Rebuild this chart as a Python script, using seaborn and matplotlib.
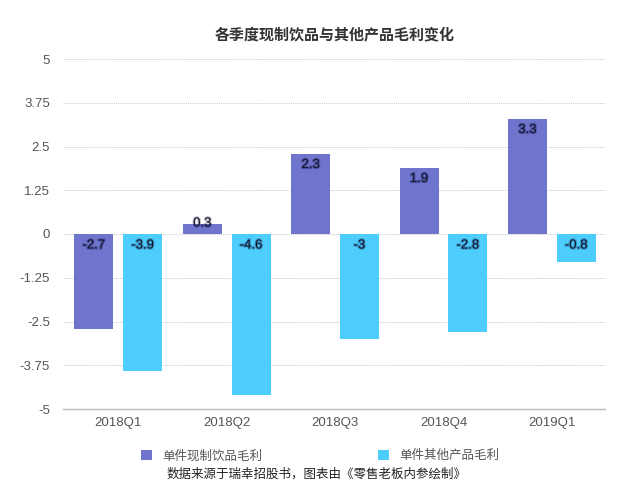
import pandas as pd
import matplotlib.pyplot as plt
import matplotlib.patheffects as pe
import seaborn as sns

# данные
quarters = ['2018Q1', '2018Q2', '2018Q3', '2018Q4', '2019Q1']
drink_margin = [-2.7, 0.3, 2.3, 1.9, 3.3]
other_margin = [-3.9, -4.6, -3.0, -2.8, -0.8]
series_names = ['单件现制饮品毛利', '单件其他产品毛利']
colors = ['#6f74cc', '#4dcdfc']
yticks = [-5, -3.75, -2.5, -1.25, 0, 1.25, 2.5, 3.75, 5]

df = pd.DataFrame({
    'quarter': quarters * 2,
    'value': drink_margin + other_margin,
    'series': [series_names[0]] * 5 + [series_names[1]] * 5,
})

sns.set_style('white')
plt.rcParams['font.family'] = ['Liberation Sans', 'Noto Sans CJK SC', 'DejaVu Sans']

fig = plt.figure(figsize=(6.41, 5.0), dpi=100)
ax = fig.add_axes([63 / 641, 1 - 409 / 500, 542 / 641, 350 / 500])

sns.barplot(data=df, x='quarter', y='value', hue='series', order=quarters,
            hue_order=series_names, palette=colors, width=0.9, gap=0.2,
            saturation=1, linewidth=0, ax=ax, errorbar=None)

ax.set_ylim(-5, 5)
ax.set_xlim(-0.51, 4.49)
ax.set_yticks(yticks)
ax.set_yticklabels([f'{t:g}' for t in yticks])
ax.set_xlabel('')
ax.set_ylabel('')
ax.tick_params(axis='both', length=0, labelsize=9.5, colors='#555555')
ax.tick_params(axis='y', pad=9.5)
ax.tick_params(axis='x', pad=6)

for t in yticks[1:]:
    ax.axhline(t, color='#c8c8c8', linestyle=(0, (1, 1)), linewidth=0.7, zorder=0)
for s in ['top', 'right', 'left']:
    ax.spines[s].set_visible(False)
ax.spines['bottom'].set_color('#bbbbbb')
ax.spines['bottom'].set_linewidth(1)

# подписи значений
glow = [pe.withStroke(linewidth=1.6, foreground='#000033', alpha=0.25)]
for container in ax.containers:
    for bar in container:
        v = bar.get_height()
        x = bar.get_x() + bar.get_width() / 2
        if v >= 0:
            y = v - 0.33 if v > 0.6 else v
        else:
            y = -0.33
        ax.text(x, y, f'{v:g}', ha='center', va='center', fontsize=9.5,
                color='#15152e', path_effects=glow, zorder=5)

handles, labels = ax.get_legend_handles_labels()
ax.get_legend().remove()
fig.legend(handles, labels, loc='center', bbox_to_anchor=(320 / 641, 1 - 456 / 500),
           ncol=2, frameon=False, fontsize=9, columnspacing=9.3,
           handletextpad=0.8, handlelength=0.9, handleheight=0.9,
           labelcolor='#555555')

fig.text(317 / 641, 1 - 474 / 500, '数据来源于瑞幸招股书，图表由《零售老板内参绘制》',
         ha='center', va='center', fontsize=9, color='#222222')
fig.text(335 / 641, 1 - 35 / 500, '各季度现制饮品与其他产品毛利变化',
         ha='center', va='center', fontsize=10.8, color='#333333', fontweight='bold')

fig.savefig('out.png', dpi=100)
